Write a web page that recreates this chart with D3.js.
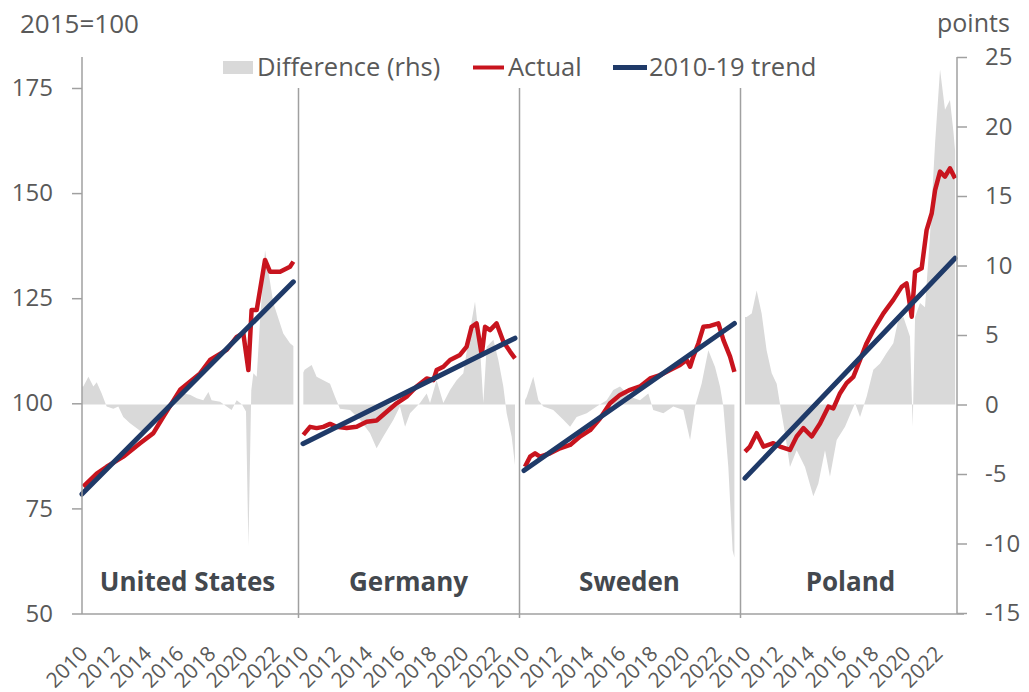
<!DOCTYPE html>
<html>
<head>
<meta charset="utf-8">
<script src="https://cdn.jsdelivr.net/npm/d3@7"></script>
<style>
  body { margin: 0; background: #fff; }
  svg text { font-family: "Open Sans", "Noto Sans", sans-serif; fill: #595959; }
</style>
</head>
<body>
<svg width="1029" height="692"></svg>
<script>
var countries = ["United States", "Germany", "Sweden", "Poland"];
var yearTicks = [2010, 2012, 2014, 2016, 2018, 2020, 2022];
var leftTicks = [50, 75, 100, 125, 150, 175];
var rightTicks = [-15, -10, -5, 0, 5, 10, 15, 20, 25];

// [year, index 2015=100]
var usActual = [[2010.08,80.2],[2010.92,83.3],[2011.54,84.9],[2012.58,87.3],[2013.63,90.5],[2014.46,92.9],[2015.08,96.8],
  [2016.13,103.2],[2017.38,107.1],[2018.0,110.3],[2019.04,112.7],[2019.67,115.8],[2020.08,116.7],[2020.4,107.9],
  [2020.6,122.2],[2020.92,122.2],[2021.44,134.1],[2021.75,131.3],[2022.38,131.3],[2023.0,132.5],[2023.21,133.7]];
var deActual = [[2010.02,92.5],[2010.44,94.4],[2010.85,94.1],[2011.27,94.4],[2011.69,95.1],[2012.1,94.4],[2012.73,94.1],
  [2013.35,94.4],[2013.98,95.6],[2014.6,95.9],[2015.23,98.0],[2015.85,100.0],[2016.48,101.6],[2017.1,104.0],[2017.73,105.9],
  [2018.15,105.5],[2018.35,107.9],[2018.77,108.7],[2019.19,110.3],[2019.81,111.5],[2020.23,113.5],[2020.54,118.2],
  [2020.85,119.0],[2021.17,111.5],[2021.38,118.2],[2021.69,117.4],[2022.1,119.0],[2022.52,114.7],[2022.94,112.3],[2023.25,110.7]];
var seActual = [[2010.06,84.9],[2010.38,87.3],[2010.69,88.1],[2011.0,87.3],[2011.63,88.1],[2012.25,89.3],[2012.88,90.1],
  [2013.5,92.1],[2014.13,93.6],[2014.75,96.4],[2015.38,100.0],[2016.0,102.0],[2016.63,103.2],[2017.25,104.0],[2017.88,105.9],
  [2018.5,106.7],[2019.13,107.9],[2019.75,109.1],[2020.17,110.3],[2020.38,108.7],[2020.58,111.1],[2020.9,114.3],
  [2021.21,118.2],[2021.63,118.4],[2022.15,119.0],[2022.46,115.1],[2022.88,111.1],[2023.15,107.5]];
var plActual = [[2010.0,88.5],[2010.31,89.7],[2010.73,92.9],[2011.15,89.7],[2011.77,90.5],[2012.19,89.7],[2012.81,88.9],
  [2013.23,92.1],[2013.65,94.1],[2014.17,92.1],[2014.69,95.2],[2015.21,99.2],[2015.52,98.8],[2015.94,102.4],[2016.35,104.8],
  [2016.77,106.3],[2017.19,110.3],[2017.6,114.3],[2018.02,117.4],[2018.65,121.4],[2019.27,124.6],[2019.79,127.7],
  [2020.1,128.5],[2020.42,120.6],[2020.63,131.3],[2021.04,132.1],[2021.35,141.2],[2021.67,145.2],[2021.88,150.7],
  [2022.19,155.1],[2022.5,153.9],[2022.81,155.9],[2023.13,153.5]];

// 2010-19 trend, start and end
var usTrend = [[2010.0,78.4],[2023.21,128.9]];
var deTrend = [[2010.0,90.4],[2023.25,115.5]];
var seTrend = [[2010.0,84.0],[2023.15,119.0]];
var plTrend = [[2010.0,82.2],[2023.13,134.5]];

// difference, points (rhs)
var usDiff = [[2010.0,1.3],[2010.08,1.3],[2010.4,2.0],[2010.71,1.3],[2010.92,1.6],[2011.23,0.8],[2011.54,-0.15],[2011.96,-0.3],
  [2012.27,-0.15],[2012.58,-0.9],[2013.0,-1.35],[2013.42,-1.7],[2013.83,-2.07],[2014.25,-1.35],[2014.67,-0.9],[2015.08,-0.4],
  [2015.5,0],[2015.92,0.55],[2016.33,0.8],[2016.75,0.7],[2017.17,0.45],[2017.58,0.3],[2017.9,0.9],[2018.1,0.3],[2018.63,0.2],
  [2019.04,-0.15],[2019.35,-0.4],[2019.67,0.3],[2020.0,0],[2020.25,-0.5],[2020.4,-10.2],[2020.58,1.0],[2020.71,2.25],
  [2020.92,2.0],[2021.13,6.1],[2021.44,11.1],[2021.96,7.3],[2022.58,5.1],[2023.0,4.4],[2023.21,4.2]];
var deDiff = [[2010.02,2.3],[2010.1,2.5],[2010.54,2.85],[2010.85,2.0],[2011.27,1.75],[2011.69,1.5],[2012.0,0.55],[2012.31,-0.3],
  [2012.94,-0.4],[2013.56,-1.1],[2014.19,-2.07],[2014.6,-3.15],[2015.02,-2.3],[2015.65,-1.1],[2016.06,-0.15],[2016.38,-1.6],
  [2016.69,-0.63],[2017.31,0.1],[2017.73,0.8],[2017.94,0.1],[2018.35,1.75],[2018.77,0.1],[2019.19,1.05],[2019.6,1.75],
  [2020.02,2.25],[2020.44,5.35],[2020.75,7.4],[2021.06,4.15],[2021.27,0.1],[2021.48,4.15],[2021.9,4.65],[2022.21,3.2],
  [2022.52,1.3],[2022.73,-0.63],[2023.04,-2.3],[2023.25,-4.35]];
var seDiff = [[2010.06,0.3],[2010.17,0.55],[2010.58,2.0],[2010.9,0.3],[2011.21,-0.15],[2011.83,-0.4],[2012.46,-1.1],
  [2012.88,-1.6],[2013.29,-0.9],[2013.92,-0.63],[2014.54,-0.15],[2015.17,0.3],[2015.58,1.05],[2016.0,1.3],[2016.63,0.55],
  [2017.25,0.3],[2017.77,0.8],[2018.08,-0.4],[2018.71,-0.63],[2019.33,-0.15],[2019.96,-0.4],[2020.38,-2.55],[2020.69,-0.15],
  [2021.1,1.5],[2021.52,3.9],[2021.94,2.7],[2022.25,1.3],[2022.46,-0.15],[2022.77,-4.5],[2023.04,-10.5],[2023.15,-11.0]];
var plDiff = [[2010.0,6.3],[2010.1,6.3],[2010.42,6.55],[2010.73,8.2],[2011.04,6.55],[2011.35,3.9],[2011.67,2.25],[2011.98,1.5],
  [2012.19,0],[2012.5,-2.07],[2012.81,-4.5],[2013.23,-3.3],[2013.75,-4.5],[2014.27,-6.6],[2014.58,-5.7],[2015.0,-3.3],
  [2015.31,-5.2],[2015.73,-2.55],[2016.25,-1.6],[2016.88,0.1],[2017.19,-0.9],[2017.6,0.55],[2018.02,2.5],[2018.44,2.95],
  [2018.85,3.7],[2019.27,4.4],[2019.58,6.1],[2019.9,6.3],[2020.31,4.9],[2020.48,-1.6],[2020.63,6.3],[2020.94,7.3],
  [2021.25,7.0],[2021.56,12.1],[2021.88,18.8],[2022.19,24.1],[2022.5,21.2],[2022.81,21.9],[2023.02,19.7],[2023.13,18.3]];

var actualData = [usActual, deActual, seActual, plActual];
var trendData = [usTrend, deTrend, seTrend, plTrend];
var diffData = [usDiff, deDiff, seDiff, plDiff];

var svg = d3.select("svg");

var panelX = d3.scaleBand()
  .domain(countries)
  .range([82, 82 + 4 * 221]);

var yL = d3.scaleLinear().domain([50, 175]).range([613.5, 88]);
var yR = d3.scaleLinear().domain([-15, 25]).range([613, 57]);

var axisColor = "#a0a0a0";

// vertical separators between countries
svg.append("g")
  .selectAll("line")
  .data(countries.slice(1))
  .enter().append("line")
    .attr("x1", function(d){ return panelX(d) - 4.5; })
    .attr("x2", function(d){ return panelX(d) - 4.5; })
    .attr("y1", 88)
    .attr("y2", 618)
    .attr("stroke", axisColor)
    .attr("stroke-width", 1.5);

countries.forEach(function(c, i){
  var x = d3.scaleLinear()
    .domain([2010, 2023.25])
    .range([panelX(c), panelX(c) + 212]);

  var g = svg.append("g").attr("class", "panel");

  var area = d3.area()
    .x(function(d){ return x(d[0]); })
    .y0(yR(0))
    .y1(function(d){ return yR(d[1]); });

  var line = d3.line()
    .x(function(d){ return x(d[0]); })
    .y(function(d){ return yL(d[1]); });

  g.append("path")
    .datum(diffData[i])
    .attr("fill", "#d9d9d9")
    .attr("d", area);

  g.append("path")
    .datum(actualData[i])
    .attr("fill", "none")
    .attr("stroke", "#c8141e")
    .attr("stroke-width", 4.5)
    .attr("stroke-linejoin", "round")
    .attr("d", line);

  g.append("path")
    .datum(trendData[i])
    .attr("fill", "none")
    .attr("stroke", "#1f3a68")
    .attr("stroke-width", 5)
    .attr("stroke-linecap", "round")
    .attr("d", line);

  g.append("text")
    .attr("x", panelX(c) + 105.5)
    .attr("y", 591)
    .attr("text-anchor", "middle")
    .style("font-size", "26px")
    .style("font-weight", "bold")
    .style("fill", "#43484e")
    .text(c);

  // year labels, rotated
  g.append("g")
    .selectAll("text")
    .data(yearTicks)
    .enter().append("text")
      .attr("transform", function(d){ return "translate(" + (x(d) + 7) + ",655) rotate(-45)"; })
      .attr("text-anchor", "end")
      .style("font-size", "21px")
      .text(function(d){ return d; });
});

// left axis
var leftAxis = svg.append("g")
  .attr("transform", "translate(82,0)")
  .call(d3.axisLeft(yL).tickValues(leftTicks).tickSize(10).tickPadding(19));
leftAxis.select(".domain").remove();
leftAxis.selectAll("line").attr("stroke", axisColor).attr("stroke-width", 1.5);
leftAxis.selectAll("text").style("font-size", "24px").style("fill", "#595959");
leftAxis.append("line")
  .attr("x1", 0).attr("x2", 0).attr("y1", 57).attr("y2", 614)
  .attr("stroke", axisColor).attr("stroke-width", 1.5);

// right axis
var rightAxis = svg.append("g")
  .attr("transform", "translate(957,0)")
  .call(d3.axisRight(yR).tickValues(rightTicks).tickSize(10).tickPadding(18)
    .tickFormat(function(d){ return String(d); }));
rightAxis.select(".domain").remove();
rightAxis.selectAll("line").attr("stroke", axisColor).attr("stroke-width", 1.5);
rightAxis.selectAll("text").style("font-size", "24px").style("fill", "#595959");
rightAxis.append("line")
  .attr("x1", 0).attr("x2", 0).attr("y1", 57).attr("y2", 614)
  .attr("stroke", axisColor).attr("stroke-width", 1.5);

// bottom line
svg.append("line")
  .attr("x1", 82).attr("x2", 964)
  .attr("y1", 614).attr("y2", 614)
  .attr("stroke", axisColor).attr("stroke-width", 1.5);

// units
svg.append("text").attr("x", 20).attr("y", 33).style("font-size", "26px").text("2015=100");
svg.append("text").attr("x", 937).attr("y", 32).style("font-size", "25px").text("points");

// legend
var legend = svg.append("g");
legend.append("rect").attr("x", 223).attr("y", 61).attr("width", 30).attr("height", 13).attr("fill", "#d9d9d9");
legend.append("text").attr("x", 257).attr("y", 76).style("font-size", "25.5px").text("Difference (rhs)");
legend.append("line").attr("x1", 473).attr("x2", 504).attr("y1", 67.5).attr("y2", 67.5)
  .attr("stroke", "#c8141e").attr("stroke-width", 4);
legend.append("text").attr("x", 508).attr("y", 76).style("font-size", "25.5px").text("Actual");
legend.append("line").attr("x1", 613).attr("x2", 647).attr("y1", 67.5).attr("y2", 67.5)
  .attr("stroke", "#1f3a68").attr("stroke-width", 5);
legend.append("text").attr("x", 649).attr("y", 76).style("font-size", "25.5px").text("2010-19 trend");
</script>
</body>
</html>
